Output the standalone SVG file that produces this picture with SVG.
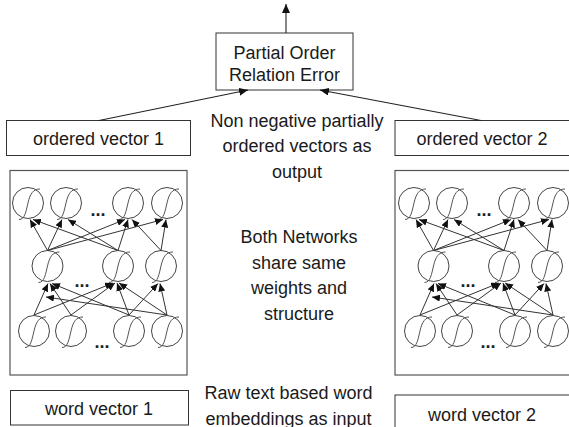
<svg xmlns="http://www.w3.org/2000/svg" xmlns:xlink="http://www.w3.org/1999/xlink" width="569" height="427" viewBox="0 0 569 427">
<style>
  .box { fill: #fff; stroke: #333; stroke-width: 1; }
  .net { fill: #fff; stroke: #555; stroke-width: 1.2; }
  .lbl { font-family: "Liberation Sans", Arial, sans-serif; font-size: 18px; fill: #1a1a1a; text-anchor: middle; }
  .dots { font-family: "Liberation Sans", Arial, sans-serif; font-size: 18px; font-weight: bold; fill: #222; text-anchor: middle; }
  .edge { stroke: #333; stroke-width: 1; fill: none; marker-end: url(#ah); }
  .main { stroke: #222; stroke-width: 1.1; fill: none; marker-end: url(#ahm); }
  .cell { fill: #fff; stroke: #444; stroke-width: 1; }
  .sig { fill: none; stroke: #555; stroke-width: 1; }
</style>
<defs>
  <marker id="ah" markerUnits="userSpaceOnUse" markerWidth="8" markerHeight="7" refX="8" refY="3.5" orient="auto">
    <path d="M0,0 L8,3.5 L0,7 z" fill="#111"/>
  </marker>
  <marker id="ahm" markerUnits="userSpaceOnUse" markerWidth="9" markerHeight="8" refX="9" refY="4" orient="auto">
    <path d="M0,0 L9,4 L0,8 z" fill="#111"/>
  </marker>
  <g id="neuron">
    <circle class="cell" r="15.5"/>
    <path class="sig" d="M-9,16.5 C-3,16.5 -2,8 0,0 C2,-9 5,-14 12,-14"/>
  </g>
</defs>

<!-- main boxes -->
<g id="error-box">
  <rect class="box" x="216" y="33" width="137" height="57"/>
  <text class="lbl" x="284.5" y="59">Partial Order</text>
  <text class="lbl" x="284.5" y="81">Relation Error</text>
</g>
<g id="ordered-vector-1">
  <rect class="box" x="6.5" y="120.5" width="184" height="35"/>
  <text class="lbl" x="98.5" y="145">ordered vector 1</text>
</g>
<g id="ordered-vector-2">
  <rect class="box" x="395" y="120.5" width="180" height="35"/>
  <text class="lbl" x="482" y="145">ordered vector 2</text>
</g>
<g id="word-vector-1">
  <rect class="box" x="10.5" y="390.5" width="178" height="34.5"/>
  <text class="lbl" x="99" y="415">word vector 1</text>
</g>
<g id="word-vector-2">
  <rect class="box" x="395" y="395" width="180" height="40"/>
  <text class="lbl" x="482" y="421">word vector 2</text>
</g>

<!-- annotations -->
<g id="note-output">
  <text class="lbl" x="297" y="126.5">Non negative partially</text>
  <text class="lbl" x="297" y="152">ordered vectors as</text>
  <text class="lbl" x="297" y="177.5">output</text>
</g>
<g id="note-shared">
  <text class="lbl" x="299" y="243">Both Networks</text>
  <text class="lbl" x="299" y="268.5">share same</text>
  <text class="lbl" x="299" y="294">weights and</text>
  <text class="lbl" x="299" y="319.5">structure</text>
</g>
<g id="note-input">
  <text class="lbl" x="288.5" y="399">Raw text based word</text>
  <text class="lbl" x="288.5" y="424.5">embeddings as input</text>
</g>

<!-- network 1 -->
<g id="network-1">
  <rect class="net" x="10" y="170.5" width="177" height="204.5"/>
  <g id="n1-t1" transform="translate(28,203)"><use xlink:href="#neuron"/></g>
  <g id="n1-t2" transform="translate(66,203)"><use xlink:href="#neuron"/></g>
  <g id="n1-t3" transform="translate(128,203)"><use xlink:href="#neuron"/></g>
  <g id="n1-t4" transform="translate(167,203)"><use xlink:href="#neuron"/></g>
  <g id="n1-m1" transform="translate(47.5,266)"><use xlink:href="#neuron"/></g>
  <g id="n1-m2" transform="translate(118,266)"><use xlink:href="#neuron"/></g>
  <g id="n1-m3" transform="translate(161,266)"><use xlink:href="#neuron"/></g>
  <g id="n1-b1" transform="translate(34,331)"><use xlink:href="#neuron"/></g>
  <g id="n1-b2" transform="translate(71,331)"><use xlink:href="#neuron"/></g>
  <g id="n1-b3" transform="translate(129,331)"><use xlink:href="#neuron"/></g>
  <g id="n1-b4" transform="translate(167,331)"><use xlink:href="#neuron"/></g>
  <text class="dots" x="98" y="216">...</text>
  <text class="dots" x="82" y="287">...</text>
  <text class="dots" x="102" y="348">...</text>
</g>

<!-- network 2 -->
<g id="network-2">
  <rect class="net" x="395" y="170.5" width="180" height="204.5"/>
  <g transform="translate(386,0)">
    <g id="n2-t1" transform="translate(28,203)"><use xlink:href="#neuron"/></g>
    <g id="n2-t2" transform="translate(66,203)"><use xlink:href="#neuron"/></g>
    <g id="n2-t3" transform="translate(128,203)"><use xlink:href="#neuron"/></g>
    <g id="n2-t4" transform="translate(167,203)"><use xlink:href="#neuron"/></g>
    <g id="n2-m1" transform="translate(47.5,266)"><use xlink:href="#neuron"/></g>
    <g id="n2-m2" transform="translate(118,266)"><use xlink:href="#neuron"/></g>
    <g id="n2-m3" transform="translate(161,266)"><use xlink:href="#neuron"/></g>
    <g id="n2-b1" transform="translate(34,331)"><use xlink:href="#neuron"/></g>
    <g id="n2-b2" transform="translate(71,331)"><use xlink:href="#neuron"/></g>
    <g id="n2-b3" transform="translate(129,331)"><use xlink:href="#neuron"/></g>
    <g id="n2-b4" transform="translate(167,331)"><use xlink:href="#neuron"/></g>
    <text class="dots" x="98" y="216">...</text>
    <text class="dots" x="82" y="287">...</text>
    <text class="dots" x="102" y="348">...</text>
  </g>
</g>

<!-- connectors -->
<g id="connectors">
  <line class="main" x1="286" y1="33" x2="286" y2="4"/>
  <line class="main" x1="99" y1="120.5" x2="248" y2="90"/>
  <line class="main" x1="481" y1="120.5" x2="320" y2="90"/>
  <g id="edges">
    <line class="edge" x1="47.5" y1="250.5" x2="30" y2="219.5"/>
    <line class="edge" x1="47.5" y1="250.5" x2="62" y2="219.5"/>
    <line class="edge" x1="47.5" y1="250.5" x2="125" y2="219.5"/>
    <line class="edge" x1="47.5" y1="250.5" x2="163" y2="219.5"/>
    <line class="edge" x1="118" y1="250.5" x2="33" y2="219.5"/>
    <line class="edge" x1="118" y1="250.5" x2="68" y2="219.5"/>
    <line class="edge" x1="118" y1="250.5" x2="128" y2="219.5"/>
    <line class="edge" x1="161" y1="250.5" x2="132" y2="219.5"/>
    <line class="edge" x1="161" y1="250.5" x2="166" y2="219.5"/>
    <line class="edge" x1="34" y1="315" x2="48" y2="283.5"/>
    <line class="edge" x1="34" y1="315" x2="113" y2="283"/>
    <line class="edge" x1="71" y1="315" x2="50" y2="283.5"/>
    <line class="edge" x1="71" y1="315" x2="115" y2="283"/>
    <line class="edge" x1="129" y1="315" x2="52" y2="283.5"/>
    <line class="edge" x1="129" y1="315" x2="117" y2="283"/>
    <line class="edge" x1="129" y1="315" x2="158" y2="283.5"/>
    <line class="edge" x1="167" y1="315" x2="119" y2="283"/>
    <line class="edge" x1="167" y1="315" x2="160" y2="283.5"/>
    <line class="edge" x1="167" y1="315" x2="46" y2="297"/>
  </g>
  <use xlink:href="#edges" transform="translate(386,0)"/>
</g>
</svg>
